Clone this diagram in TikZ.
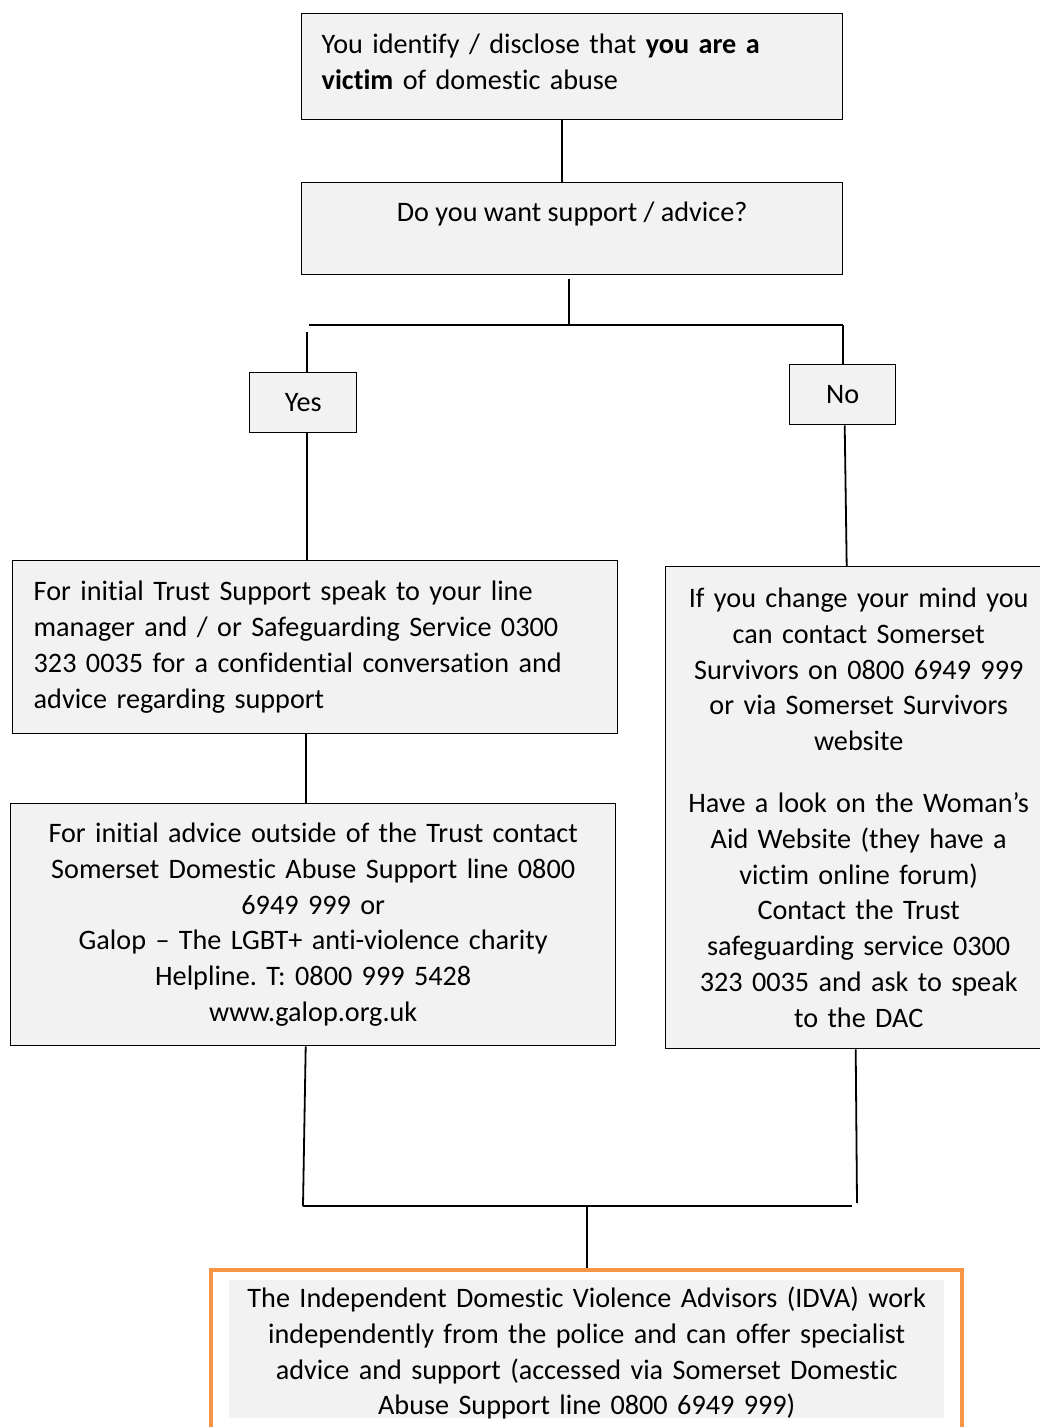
\documentclass[tikz,border=0pt]{standalone}
\usepackage{fontspec}
\setmainfont[Ligatures=NoCommon]{Carlito}
\usetikzlibrary{positioning,fit}
\definecolor{boxgray}{HTML}{F2F2F2}
\definecolor{idvaorange}{HTML}{F79646}
\frenchspacing
\begin{document}
\begin{tikzpicture}[
x=1pt,y=-1pt,
font=\fontsize{28.2}{35.8}\selectfont
]

\tikzstyle{b} = [draw, fill=boxgray, shape=rectangle, line width=1.4pt, anchor=north west, inner sep=0pt]
\tikzstyle{l} = [line width=1.8pt]

\clip (0,0) rectangle (1040,1427);

\node[b, minimum width=541pt, minimum height=106pt, text width=501pt, text depth=46pt, align=left] (vic) at (301,13)
{You identify / disclose that \textbf{you are a}\\ \textbf{victim} of domestic abuse};
\node[b, minimum width=541pt, minimum height=92pt, text height=20pt, text depth=34pt] (q) at (301,182)
{Do you want support / advice?};
\node[b, minimum width=107pt, minimum height=60pt] (yes) at (249,372) {Yes};
\node[b, minimum width=106pt, minimum height=60pt] (no) at (789,364) {No};

\node[b, minimum width=605pt, minimum height=173pt, text width=563pt, align=left] (trust) at (12,560)
{For initial Trust Support speak to your line\\ manager and / or Safeguarding Service 0300\\ 323 0035 for a confidential conversation and\\ advice regarding support};
\node[b, minimum width=386pt, minimum height=482pt, text width=370pt, align=center] (later) at (665,566)
{If you change your mind you\\ can contact Somerset\\ Survivors on 0800 6949 999\\ or via Somerset Survivors\\ website\\[26pt] Have a look on the Woman’s\\ Aid Website (they have a\\ victim online forum)\\ Contact the Trust\\ safeguarding service 0300\\ 323 0035 and ask to speak\\ to the DAC};
\node[b, minimum width=605pt, minimum height=242pt, text width=590pt, align=center] (ext) at (10,803)
{For initial advice outside of the Trust contact\\ Somerset Domestic Abuse Support line 0800\\ 6949 999 or\\ Galop – The LGBT+ anti-violence charity\\ Helpline. T: 0800 999 5428\\ www.galop.org.uk};

\node[fill=boxgray, anchor=north west, inner sep=0pt, minimum width=715pt, minimum height=138pt, text width=715pt, text depth=104pt, align=center] (idva) at (229,1280)
{The Independent Domestic Violence Advisors (IDVA) work\\ independently from the police and can offer specialist\\ advice and support (accessed via Somerset Domestic\\ Abuse Support line 0800 6949 999)};
\coordinate (idvaend) at (587,1450);
\node[draw=idvaorange, line width=4pt, fit=(idva)(idvaend), inner xsep=18pt, inner ysep=10pt] (frame) {};

\coordinate (busL) at (309,325);
\coordinate (busR) at (843,325);
\coordinate (bus2L) at (303,1206);
\coordinate (bus2R) at (852,1206);
\coordinate (laterend) at (857,1203);

\draw[l] ([xshift=-10pt]vic.south) -- ([xshift=-10pt]q.north);
\draw[l] ([xshift=-3.5pt,yshift=-4pt]q.south) -- ([xshift=-3.5pt]q.south |- busL);
\draw[l] (busL) -- (busR);
\draw[l] ([xshift=3.5pt,yshift=40pt]yes.north) -- ([xshift=3.5pt]yes.north);
\draw[l] (busR) -- (busR |- no.north);
\draw[l] ([xshift=3.5pt]yes.south) -- ([xshift=3.5pt]yes.south |- trust.north);
\draw[l] ([xshift=2pt]no.south) -- ([xshift=4pt]no.south |- later.north);
\draw[l] ([xshift=-9.5pt]trust.south) -- ([xshift=-9.5pt]trust.south |- ext.north);
\draw[l] ([xshift=-7.5pt]ext.south) -- (bus2L);
\draw[l] ([xshift=-3pt]later.south) -- (laterend);
\draw[l] (bus2L) -- (bus2R);
\draw[l] (frame.north |- bus2L) -- (frame.north);
\end{tikzpicture}
\end{document}
